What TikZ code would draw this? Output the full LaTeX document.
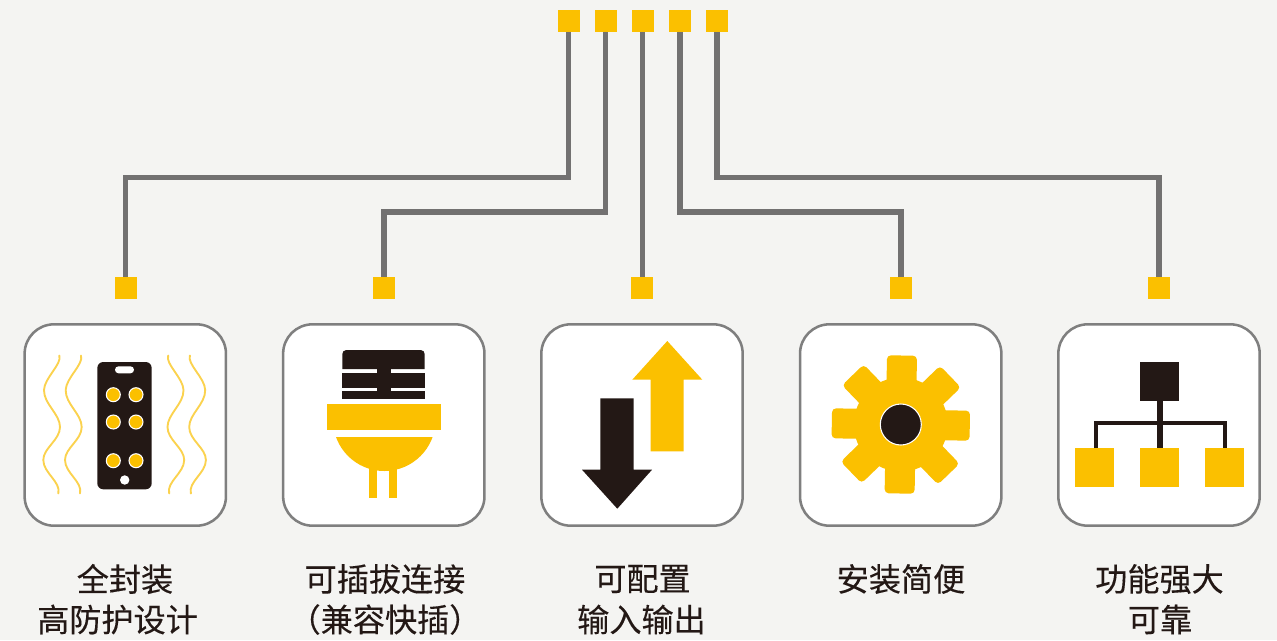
\documentclass[tikz,border=0pt]{standalone}
\usepackage{fontspec}
\setmainfont[FakeBold=0.25]{Noto Sans CJK SC}
\definecolor{bgc}{HTML}{F4F4F2}
\definecolor{amber}{HTML}{FBC000}
\definecolor{ink}{HTML}{231815}
\definecolor{wire}{HTML}{727171}
\definecolor{cardedge}{HTML}{7F7F7F}
\definecolor{wave}{HTML}{FBD24E}
\tikzset{
  x=0.75pt,y=-0.75pt,
  pad/.style={fill=amber,draw=none,minimum size=16.5pt,inner sep=0pt,outer sep=0pt,rectangle},
  link/.style={draw=wire,line width=4pt,line cap=butt,line join=miter},
  card/.style={draw=cardedge,fill=white,line width=1.9pt,rounded corners=22pt,minimum size=151pt,inner sep=0pt,rectangle},
  caption/.style={text=ink,font=\fontsize{24.1pt}{30pt}\selectfont,align=center,inner sep=0pt},
  wavy/.style={draw=wave,line width=1.4pt,line cap=round},
  block/.style={minimum size=29.2pt,inner sep=0pt,outer sep=0pt,rectangle},
}
\newcommand{\wavyline}[1]{%
  \draw[wavy,shift={(#1,0)}] (0,355.5) .. controls (3,364) and (-15,378) .. (-15.3,390)
    .. controls (-15.6,404) and (0.7,414) .. (0.7,427)
    .. controls (0.7,440) and (-16,448) .. (-16,460)
    .. controls (-16,473) and (2,482) .. (-1,493.5);}
\begin{document}
\begin{tikzpicture}
\useasboundingbox (0,0) rectangle (1277,640);
\fill[bgc] (0,0) rectangle (1277,640);
% top pads
\node[pad] (t1) at (569,21) {};
\node[pad] (t2) at (606,21) {};
\node[pad] (t3) at (643,21) {};
\node[pad] (t4) at (680,21) {};
\node[pad] (t5) at (717,21) {};
% bottom pads
\node[pad] (b1) at (125.5,288) {};
\node[pad] (b2) at (384,288) {};
\node[pad] (b3) at (642,288) {};
\node[pad] (b4) at (901,288) {};
\node[pad] (b5) at (1159,288) {};
% connectors
\draw[link] ([xshift=-0.5pt]t1.south) |- (125.5,177.5) -- (b1.north);
\draw[link] ([xshift=-0.5pt]t2.south) |- (384,212) -- (b2.north);
\draw[link] ([xshift=-0.3pt]t3.south) -- ([xshift=-0.3pt]t3.south |- b3.north);
\draw[link] (t4.south) |- (901,212) -- (b4.north);
\draw[link] (t5.south) |- (1159,177.5) -- (b5.north);
% cards
\node[card] (c1) at (125.3,425) {};
\node[card] (c2) at (383.8,425) {};
\node[card] (c3) at (642,425) {};
\node[card] (c4) at (900.7,425) {};
\node[card] (c5) at (1159,425) {};
% icon 1
\wavyline{59.3}\wavyline{81}
\begin{scope}[xscale=-1,shift={(-249.2,0)}]
\wavyline{59.3}\wavyline{81}
\end{scope}
\fill[ink,rounded corners=4.5pt] (97.3,362) rectangle (151.7,489.3);
\fill[white,rounded corners=2.6pt] (115,366.3) rectangle (134,373.3);
\foreach \cx/\cy in {113.3/394.7,136/394.7,113.3/422,136/422,113.3/460.7,136/460.7}{
  \fill[amber,draw=white,line width=0.8pt] (\cx,\cy) circle (7);
}
\fill[white] (124.7,480) circle (4.7);
% icon 2
\fill[ink] (342.3,369) [rounded corners=3pt] -- (342.3,350) -- (424.7,350) [sharp corners] -- (424.7,369) -- cycle;
\fill[ink] (342.3,373.3) rectangle (424.7,387.7);
\fill[ink] (342.3,391.3) rectangle (424.7,399.3);
\fill[ink] (376.7,365) rectangle (390.7,395);
\fill[amber] (326.5,404) rectangle (440.5,430);
\begin{scope}
\clip (300,437) rectangle (470,480);
\fill[amber] (384.3,419.7) circle (51.3);
\end{scope}
\fill[amber] (369.3,465) rectangle (376.7,498.3);
\fill[amber] (389.3,465) rectangle (396.7,498.3);
% icon 3
\fill[amber] (667.3,341) -- (702.3,379.7) -- (683.7,379.7) -- (683.7,451.3) -- (650.7,451.3) -- (650.7,379.7) -- (632.3,379.7) -- cycle;
\fill[ink] (617.3,508.7) -- (652,469.7) -- (633.7,469.7) -- (633.7,398.3) -- (600.3,398.3) -- (600.3,469.7) -- (582,469.7) -- cycle;
% icon 4
\begin{scope}[shift={(900.8,424.5)}]
\fill[amber] (0,0) circle (47);
\foreach \a in {0,45,...,315}{
  \fill[amber,rounded corners=3pt,rotate=\a-1] (-15,-10) rectangle (15,-69);
}
\fill[ink,draw=white,line width=0.8pt] (0,0) circle (20.5);
\end{scope}
% icon 5
\node[block,fill=ink] (root) at (1159.5,381.5) {};
\node[block,fill=amber] (l1) at (1094.5,467.5) {};
\node[block,fill=amber] (l2) at (1159.5,467.5) {};
\node[block,fill=amber] (l3) at (1224.5,467.5) {};
\draw[ink,line width=4pt] ([xshift=0.4pt]root.south) -- ([xshift=0.4pt]l2.north);
\draw[ink,line width=3pt,line join=miter] ([xshift=1.35pt]l1.north) -- ++(0,-24.7) -| ([xshift=0.6pt]l3.north);
% captions
\node[caption] (n1a) at (125,579) {全封装};
\node[caption] (n1b) at (117.5,619.5) {高防护设计};
\node[caption] (n2a) at (385,579) {可插拔连接};
\node[caption] (n2b) at (385,619.5) {（兼容快插）};
\node[caption] (n3a) at (642.5,579) {可配置};
\node[caption] (n3b) at (641.5,619.5) {输入输出};
\node[caption] (n4a) at (901,579) {安装简便};
\node[caption] (n5a) at (1159.5,579) {功能强大};
\node[caption] (n5b) at (1160,619.5) {可靠};
\end{tikzpicture}
\end{document}
